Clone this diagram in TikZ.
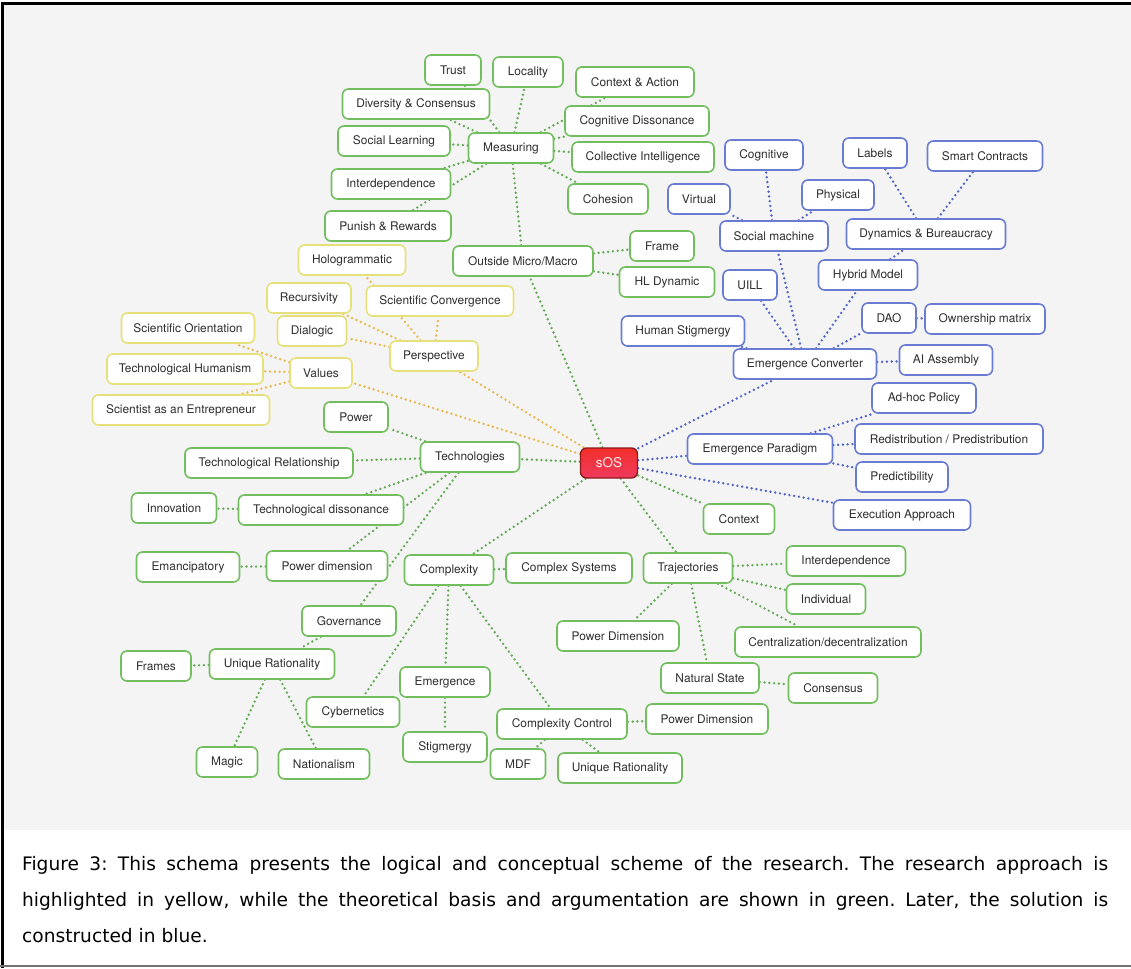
\documentclass[tikz,border=0pt]{standalone}
\usepackage{fontspec}
\setmainfont{TeX Gyre Heros}
\newfontfamily\capfont{DejaVu Sans}
\usetikzlibrary{backgrounds}

\definecolor{panel}{HTML}{F4F4F4}
\definecolor{txt}{HTML}{2E2E2E}
\definecolor{gborder}{HTML}{72BE5E}
\definecolor{yborder}{HTML}{E6E07A}
\definecolor{bborder}{HTML}{6A7BD2}
\definecolor{gline}{HTML}{66AC58}
\definecolor{yline}{HTML}{EAB850}
\definecolor{bline}{HTML}{5467C6}
\definecolor{sostop}{HTML}{F2302A}
\definecolor{sosbot}{HTML}{EE3A5E}
\definecolor{sosedge}{HTML}{8E1C1C}

\pgfdeclarelayer{edges}
\pgfsetlayers{background,edges,main}

\tikzset{
  box/.style={draw, rounded corners=6pt, fill=white, line width=1.6pt,
    minimum height=30pt, inner sep=2pt, text=txt,
    font=\fontsize{11.9}{13}\selectfont},
  gbox/.style={box, draw=gborder},
  ybox/.style={box, draw=yborder},
  bbox/.style={box, draw=bborder},
  link/.style={line width=2.7pt, line cap=round, dash pattern=on 0pt off 4.8pt},
  glink/.style={link, draw=gline},
  ylink/.style={link, draw=yline},
  blink/.style={link, draw=bline},
}

\begin{document}
\frenchspacing
\begin{tikzpicture}[x=1pt, y=-1pt]
\useasboundingbox (0,0) rectangle (1131,968);
% panel and frame
\begin{pgfonlayer}{background}
  \fill[white] (0,0) rectangle (1131,968);
  \fill[panel] (4,5) rectangle (1131,830);
  \draw[line width=3pt] (2,968) -- (2,3.5) -- (1131,3.5);
  \draw[line width=1.5pt, black!55] (0,966) -- (1131,966);
\end{pgfonlayer}

% hub
\node[draw=sosedge, line width=1.4pt, rounded corners=6pt, top color=sostop, bottom color=sosbot,
  minimum width=57pt, minimum height=30pt, text=white!92!red, font=\fontsize{13.5}{15}\selectfont] (sos) at (609,463) {sOS};

% green nodes
\node[gbox, minimum width=56pt]  (trust) at (453,70) {Trust};
\node[gbox, minimum width=70pt]  (locality) at (528,72) {Locality};
\node[gbox, minimum width=118pt] (ctxact) at (635,82) {Context \& Action};
\node[gbox, minimum width=147pt] (divcons) at (416,104) {Diversity \& Consensus};
\node[gbox, minimum width=144pt] (cogdis) at (637,121) {Cognitive Dissonance};
\node[gbox, minimum width=112pt] (soclearn) at (394,141) {Social Learning};
\node[gbox, minimum width=85pt]  (measuring) at (511,148) {Measuring};
\node[gbox, minimum width=142pt] (collint) at (643,157) {Collective Intelligence};
\node[gbox, minimum width=119pt] (interdep) at (391,184) {Interdependence};
\node[gbox, minimum width=80pt]  (cohesion) at (608,199) {Cohesion};
\node[gbox, minimum width=126pt] (punish) at (388,226) {Punish \& Rewards};
\node[gbox, minimum width=64pt]  (frame) at (662,246) {Frame};
\node[gbox, minimum width=140pt] (outside) at (523,261) {Outside Micro/Macro};
\node[gbox, minimum width=95pt]  (hldyn) at (667,282) {HL Dynamic};
\node[gbox, minimum width=64pt]  (power) at (356,417) {Power};
\node[gbox, minimum width=168pt] (techrel) at (269,463) {Technological Relationship};
\node[gbox, minimum width=99pt]  (technologies) at (470,457) {Technologies};
\node[gbox, minimum width=85pt]  (innovation) at (174,508) {Innovation};
\node[gbox, minimum width=165pt] (techdis) at (321,510) {Technological dissonance};
\node[gbox, minimum width=103pt] (emancip) at (188,567) {Emancipatory};
\node[gbox, minimum width=121pt] (powerdim) at (327,566) {Power dimension};
\node[gbox, minimum width=89pt]  (complexity) at (449,570) {Complexity};
\node[gbox, minimum width=126pt] (complexsys) at (569,568) {Complex Systems};
\node[gbox, minimum width=89pt]  (trajectories) at (688,568) {Trajectories};
\node[gbox, minimum width=71pt]  (context) at (739,519) {Context};
\node[gbox, minimum width=119pt] (interdepR) at (846,561) {Interdependence};
\node[gbox, minimum width=79pt]  (individual) at (826,599) {Individual};
\node[gbox, minimum width=122pt] (powerdimT) at (618,636) {Power Dimension};
\node[gbox, minimum width=186pt] (central) at (828,642) {Centralization/decentralization};
\node[gbox, minimum width=98pt]  (natstate) at (710,678) {Natural State};
\node[gbox, minimum width=89pt]  (consensus) at (833,688) {Consensus};
\node[gbox, minimum width=94pt]  (governance) at (349,621) {Governance};
\node[gbox, minimum width=70pt]  (frames) at (156,666) {Frames};
\node[gbox, minimum width=125pt] (uniqratL) at (272,664) {Unique Rationality};
\node[gbox, minimum width=90pt]  (emergence) at (445,682) {Emergence};
\node[gbox, minimum width=93pt]  (cybernetics) at (353,712) {Cybernetics};
\node[gbox, minimum width=84pt]  (stigmergy) at (445,747) {Stigmergy};
\node[gbox, minimum width=61pt]  (magic) at (227,762) {Magic};
\node[gbox, minimum width=91pt]  (nationalism) at (324,764) {Nationalism};
\node[gbox, minimum width=130pt] (cplxctrl) at (562,724) {Complexity Control};
\node[gbox, minimum width=122pt] (powerdimC) at (707,719) {Power Dimension};
\node[gbox, minimum width=55pt]  (mdf) at (518,764) {MDF};
\node[gbox, minimum width=124pt] (uniqratC) at (620,768) {Unique Rationality};

% yellow nodes
\node[ybox, minimum width=107pt] (holo) at (352,260) {Hologrammatic};
\node[ybox, minimum width=84pt]  (recurs) at (309,298) {Recursivity};
\node[ybox, minimum width=147pt] (sciconv) at (440,301) {Scientific Convergence};
\node[ybox, minimum width=133pt] (sciorient) at (188,328) {Scientific Orientation};
\node[ybox, minimum width=69pt]  (dialogic) at (312,331) {Dialogic};
\node[ybox, minimum width=88pt]  (perspective) at (434,356) {Perspective};
\node[ybox, minimum width=156pt] (techhum) at (185,369) {Technological Humanism};
\node[ybox, minimum width=62pt]  (values) at (321,373) {Values};
\node[ybox, minimum width=177pt] (scient) at (181,410) {Scientist as an Entrepreneur};

% blue nodes
\node[bbox, minimum width=78pt]  (cognitive) at (764,155) {Cognitive};
\node[bbox, minimum width=64pt]  (labels) at (875,153) {Labels};
\node[bbox, minimum width=115pt] (smart) at (985,156) {Smart Contracts};
\node[bbox, minimum width=62pt]  (virtual) at (699,199) {Virtual};
\node[bbox, minimum width=72pt]  (physical) at (838,195) {Physical};
\node[bbox, minimum width=108pt] (socmach) at (774,236) {Social machine};
\node[bbox, minimum width=159pt] (dynbur) at (926,234) {Dynamics \& Bureaucracy};
\node[bbox, minimum width=99pt]  (hybrid) at (868,275) {Hybrid Model};
\node[bbox, minimum width=54pt]  (uill) at (750,285) {UILL};
\node[bbox, minimum width=54pt]  (dao) at (889,318) {DAO};
\node[bbox, minimum width=120pt] (ownership) at (985,319) {Ownership matrix};
\node[bbox, minimum width=123pt] (humstig) at (683,331) {Human Stigmergy};
\node[bbox, minimum width=143pt] (emconv) at (805,364) {Emergence Converter};
\node[bbox, minimum width=93pt]  (aiasm) at (946,360) {AI Assembly};
\node[bbox, minimum width=104pt] (adhoc) at (924,398) {Ad-hoc Policy};
\node[bbox, minimum width=145pt] (emparad) at (760,449) {Emergence Paradigm};
\node[bbox, minimum width=188pt] (redist) at (949,439) {Redistribution / Predistribution};
\node[bbox, minimum width=92pt]  (predict) at (902,477) {Predictibility};
\node[bbox, minimum width=137pt] (exec) at (902,515) {Execution Approach};

% dotted connectors, kept under the boxes
\begin{pgfonlayer}{edges}
  % green branch
  \draw[glink] (sos) -- (outside);
  \draw[glink] (outside) -- (measuring);
  \draw[glink] (outside) -- (frame);
  \draw[glink] (outside) -- (hldyn);
  \foreach \n in {trust,locality,ctxact,divcons,cogdis,soclearn,collint,interdep,cohesion,punish}
    \draw[glink] (measuring) -- (\n);
  \draw[glink] (sos) -- (technologies);
  \foreach \n in {power,techrel,techdis,powerdim,governance}
    \draw[glink] (technologies) -- (\n);
  \draw[glink] (techdis) -- (innovation);
  \draw[glink] (powerdim) -- (emancip);
  \draw[glink] (governance) -- (uniqratL);
  \draw[glink] (uniqratL) -- (frames);
  \draw[glink] (uniqratL) -- (magic);
  \draw[glink] (uniqratL) -- (nationalism);
  \draw[glink] (sos) -- (complexity);
  \foreach \n in {complexsys,cybernetics,emergence,cplxctrl}
    \draw[glink] (complexity) -- (\n);
  \draw[glink] (emergence) -- (stigmergy);
  \draw[glink] (cplxctrl) -- (powerdimC);
  \draw[glink] (cplxctrl) -- (mdf);
  \draw[glink] (cplxctrl) -- (uniqratC);
  \draw[glink] (sos) -- (context);
  \draw[glink] (sos) -- (trajectories);
  \foreach \n in {interdepR,individual,central,powerdimT,natstate}
    \draw[glink] (trajectories) -- (\n);
  \draw[glink] (natstate) -- (consensus);
  % yellow branch
  \draw[ylink] (sos) -- (values);
  \draw[ylink] (sos) -- (perspective);
  \foreach \n in {holo,recurs,sciconv,dialogic}
    \draw[ylink] (perspective) -- (\n);
  \foreach \n in {sciorient,techhum,scient}
    \draw[ylink] (values) -- (\n);
  % blue branch
  \draw[blink] (sos) -- (emconv);
  \draw[blink] (sos) -- (emparad);
  \draw[blink] (sos) -- (exec);
  \foreach \n in {humstig,uill,socmach,hybrid,dao,aiasm}
    \draw[blink] (emconv) -- (\n);
  \draw[blink] (dao) -- (ownership);
  \foreach \n in {virtual,cognitive,physical}
    \draw[blink] (socmach) -- (\n);
  \draw[blink] (hybrid) -- (dynbur);
  \draw[blink] (dynbur) -- (labels);
  \draw[blink] (dynbur) -- (smart);
  \draw[blink] (emparad) -- (adhoc);
  \draw[blink] (emparad) -- (redist);
  \draw[blink] (emparad) -- (predict);
\end{pgfonlayer}

% caption
\node[anchor=north west, inner sep=0pt, text width=1086pt, align=justify,
  font=\capfont\fontsize{18.6}{36}\selectfont] (caption) at (22,856)
  {Figure 3: This schema presents the logical and conceptual scheme of the research. The research approach is\linebreak
   highlighted in yellow, while the theoretical basis and argumentation are shown in green. Later, the solution is\linebreak
   constructed in blue.};
\end{tikzpicture}
\end{document}
